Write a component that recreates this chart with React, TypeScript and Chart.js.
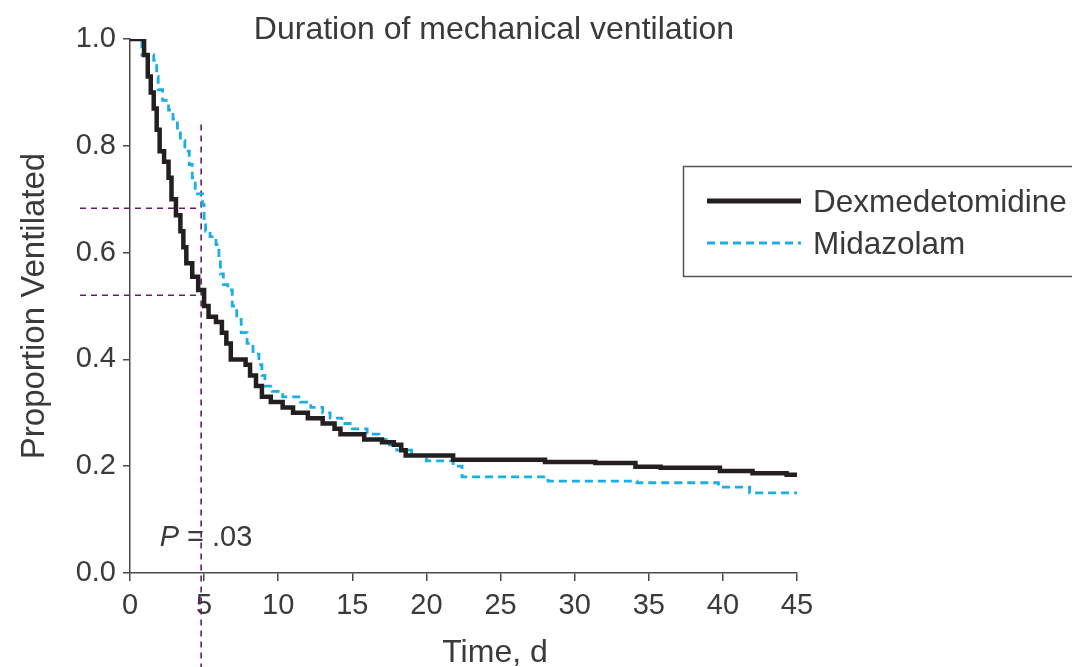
import React, { useEffect, useRef } from "react";
import { Chart, registerables } from "chart.js";

Chart.register(...registerables);

// ---- Data ----
const dexTimes = [0, 0.95, 1.2, 1.4, 1.6, 1.8, 2.0, 2.3, 2.6, 2.8, 3.1, 3.4, 3.6, 3.8, 4.2, 4.6, 5.0, 5.3, 5.8, 6.2, 6.5, 6.8, 7.8, 8.1, 8.5, 8.9, 9.5, 10.3, 11.0, 12.0, 13.0, 13.8, 14.2, 15.8, 17.0, 17.8, 18.3, 18.6, 21.8, 28.0, 31.4, 34.1, 35.8, 39.8, 42.0, 44.3, 45];
const dexValues = [1.0, 0.97, 0.93, 0.9, 0.87, 0.83, 0.79, 0.77, 0.74, 0.7, 0.67, 0.64, 0.61, 0.58, 0.555, 0.53, 0.5, 0.48, 0.47, 0.45, 0.43, 0.4, 0.39, 0.37, 0.35, 0.33, 0.32, 0.31, 0.3, 0.29, 0.28, 0.27, 0.26, 0.25, 0.245, 0.24, 0.23, 0.22, 0.212, 0.208, 0.206, 0.199, 0.197, 0.191, 0.187, 0.184, 0.184];

const midTimes = [0, 0.8, 1.6, 1.8, 1.9, 2.2, 2.6, 2.9, 3.2, 3.4, 3.7, 4.0, 4.2, 4.4, 4.9, 5.0, 5.1, 5.4, 5.8, 6.0, 6.1, 6.3, 6.6, 6.9, 7.2, 7.5, 7.9, 8.3, 8.7, 8.9, 9.1, 9.6, 10.3, 11.5, 12.2, 13.0, 13.5, 14.3, 15.0, 16.0, 16.8, 17.5, 18.0, 19.0, 20.0, 21.8, 22.4, 28.2, 34.2, 39.7, 41.8, 45];
const midValues = [1.0, 0.97, 0.96, 0.93, 0.905, 0.885, 0.867, 0.85, 0.83, 0.81, 0.79, 0.765, 0.74, 0.71, 0.69, 0.66, 0.64, 0.63, 0.615, 0.59, 0.56, 0.54, 0.53, 0.5, 0.475, 0.45, 0.43, 0.41, 0.39, 0.37, 0.35, 0.34, 0.33, 0.32, 0.31, 0.3, 0.29, 0.28, 0.27, 0.26, 0.25, 0.24, 0.23, 0.22, 0.21, 0.2, 0.18, 0.172, 0.169, 0.161, 0.15, 0.15];

const seriesLabels = ["Dexmedetomidine", "Midazolam"];
const xTicks = [0, 5, 10, 15, 20, 25, 30, 35, 40, 45];
const yTicks = [0, 0.2, 0.4, 0.6, 0.8, 1.0];
const refTime = 4.8;
const refTimeTop = 0.84;
const refLevels = [0.683, 0.52];

const chartTitle = "Duration of mechanical ventilation";
const xTitle = "Time, d";
const yTitle = "Proportion Ventilated";
const pLabel = "P";
const pValue = " = .03";

const FONT = "'Liberation Sans', Arial, sans-serif";
const TEXT = "#3a3a3a";
const BLACK = "#231f20";
const BLUE = "#1aaee6";
const PURPLE = "#6a1b6e";
const AXIS = "#4a4a4a";

export default function App() {
  const ref = useRef<HTMLCanvasElement | null>(null);

  useEffect(() => {
    if (!ref.current) return;
    const dex = dexTimes.map((t, i) => ({ x: t, y: dexValues[i] }));
    const mid = midTimes.map((t, i) => ({ x: t, y: midValues[i] }));

    const overlay = {
      id: "overlay",
      beforeDatasetsDraw(chart: any) {
        const ctx = chart.ctx;
        const xs = chart.scales.x;
        const ys = chart.scales.y;
        ctx.save();
        ctx.strokeStyle = PURPLE;
        ctx.lineWidth = 1.6;
        ctx.setLineDash([6, 5]);
        const xp = xs.getPixelForValue(refTime);
        ctx.beginPath();
        ctx.moveTo(xp, ys.getPixelForValue(refTimeTop));
        ctx.lineTo(xp, chart.height);
        ctx.stroke();
        refLevels.forEach((lv) => {
          const yp = ys.getPixelForValue(lv);
          ctx.beginPath();
          ctx.moveTo(xs.left - 50, yp);
          ctx.lineTo(xp, yp);
          ctx.stroke();
        });
        ctx.restore();
      },
      afterDraw(chart: any) {
        const ctx = chart.ctx;
        const xs = chart.scales.x;
        const ys = chart.scales.y;
        const area = chart.chartArea;
        ctx.save();
        ctx.fillStyle = TEXT;
        // Title
        ctx.font = `32px ${FONT}`;
        ctx.textAlign = "center";
        ctx.textBaseline = "alphabetic";
        ctx.fillText(chartTitle, 494, 39);
        // X title
        ctx.font = `32px ${FONT}`;
        ctx.fillText(xTitle, 495, 662);
        // Y title
        ctx.save();
        ctx.font = `33px ${FONT}`;
        ctx.translate(44, (area.top + area.bottom) / 2);
        ctx.rotate(-Math.PI / 2);
        ctx.fillText(yTitle, 0, 0);
        ctx.restore();
        // P value
        ctx.textAlign = "left";
        ctx.font = `italic 29px ${FONT}`;
        const px = xs.getPixelForValue(2.0);
        const py = ys.getPixelForValue(0.05);
        ctx.fillText(pLabel, px, py);
        const w = ctx.measureText(pLabel).width;
        ctx.font = `29px ${FONT}`;
        ctx.fillText(pValue, px + w, py);
        // Legend
        ctx.strokeStyle = "#555";
        ctx.lineWidth = 1.5;
        ctx.strokeRect(683.5, 166.5, 420, 110);
        const items = [
          { color: BLACK, width: 5, dash: [] as number[], y: 201 },
          { color: BLUE, width: 2.8, dash: [8, 5], y: 243 },
        ];
        items.forEach((it, i) => {
          ctx.strokeStyle = it.color;
          ctx.lineWidth = it.width;
          ctx.setLineDash(it.dash);
          ctx.beginPath();
          ctx.moveTo(707, it.y);
          ctx.lineTo(801, it.y);
          ctx.stroke();
          ctx.setLineDash([]);
          ctx.fillStyle = TEXT;
          ctx.font = `31.5px ${FONT}`;
          ctx.textAlign = "left";
          ctx.textBaseline = "alphabetic";
          ctx.fillText(seriesLabels[i], 813, it.y + 11);
        });
        ctx.restore();
      },
    };

    const tickFont = { family: FONT, size: 29 };

    const chart = new Chart(ref.current, {
      type: "line",
      data: {
        datasets: [
          {
            label: seriesLabels[0],
            data: dex,
            borderColor: BLACK,
            borderWidth: 4.5,
            stepped: "before",
            pointRadius: 0,
            fill: false,
          },
          {
            label: seriesLabels[1],
            data: mid,
            borderColor: BLUE,
            borderWidth: 2.8,
            borderDash: [8, 5],
            stepped: "before",
            pointRadius: 0,
            fill: false,
          },
        ],
      },
      options: {
        animation: false,
        responsive: false,
        devicePixelRatio: 1,
        layout: { padding: { left: 0, right: 275, top: 39, bottom: 0 } },
        plugins: { legend: { display: false }, tooltip: { enabled: false }, title: { display: false } },
        scales: {
          x: {
            type: "linear",
            min: 0,
            max: 45,
            afterBuildTicks: (s: any) => {
              s.ticks = xTicks.map((v) => ({ value: v }));
            },
            ticks: { font: tickFont, color: TEXT, padding: 8, maxRotation: 0, autoSkip: false },
            grid: { drawOnChartArea: false, drawTicks: true, tickLength: 8, color: AXIS, lineWidth: 1.5 },
            border: { display: true, color: AXIS, width: 1.5 },
            afterFit: (s: any) => {
              s.height = 94;
            },
          },
          y: {
            type: "linear",
            min: 0,
            max: 1,
            afterBuildTicks: (s: any) => {
              s.ticks = yTicks.map((v) => ({ value: v }));
            },
            ticks: {
              font: tickFont,
              color: TEXT,
              padding: 7,
              autoSkip: false,
              callback: (v: any) => Number(v).toFixed(1),
            },
            grid: { drawOnChartArea: false, drawTicks: true, tickLength: 7, color: AXIS, lineWidth: 1.5 },
            border: { display: true, color: AXIS, width: 1.5 },
            afterFit: (s: any) => {
              s.width = 130;
            },
          },
        },
      },
      plugins: [overlay],
    } as any);
    return () => chart.destroy();
  }, []);

  return (
    <div style={{ position: "absolute", left: 0, top: 0, width: 1072, height: 667, background: "#fff" }}>
      <canvas ref={ref} width={1072} height={667} style={{ display: "block" }} />
    </div>
  );
}
